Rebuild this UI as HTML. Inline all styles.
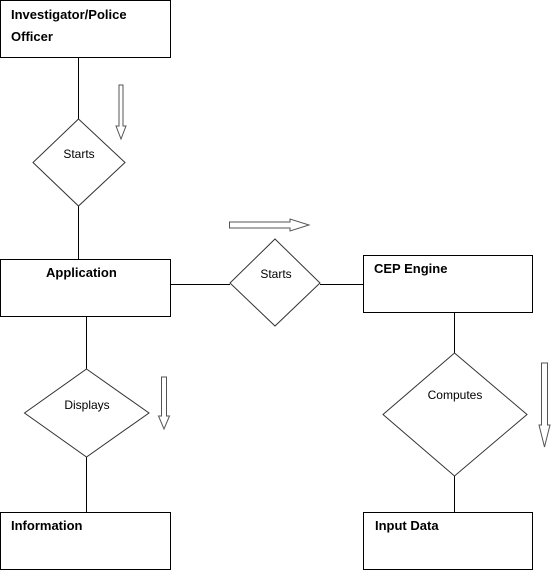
<!DOCTYPE html>
<html><head><style>
html,body{margin:0;padding:0;background:#fff;}
svg{display:block;}
text{font-family:"Liberation Sans","DejaVu Sans",sans-serif;}
.b{font-weight:bold;font-size:13px;fill:#000;}
.n{font-size:12px;fill:#000;}
</style></head><body>
<svg width="551" height="570" viewBox="0 0 551 570" xmlns="http://www.w3.org/2000/svg">
<g fill="none" stroke="#000" stroke-width="1">
<rect x="0.5" y="0.5" width="170" height="57"/>
<rect x="0.5" y="259.5" width="170" height="57"/>
<rect x="363.5" y="255.5" width="169" height="57"/>
<rect x="0.5" y="512.5" width="170" height="57"/>
<rect x="363.5" y="512.5" width="169" height="57"/>
<line x1="78.5" y1="58" x2="78.5" y2="119"/>
<line x1="78.5" y1="206" x2="78.5" y2="259"/>
<line x1="171" y1="284.5" x2="230" y2="284.5"/>
<line x1="320" y1="284.5" x2="363" y2="284.5"/>
<line x1="86.5" y1="317" x2="86.5" y2="369"/>
<line x1="86.5" y1="457" x2="86.5" y2="512"/>
<line x1="454.5" y1="313" x2="454.5" y2="353"/>
<line x1="454.5" y1="476" x2="454.5" y2="512"/>
</g>
<g fill="#fff" stroke="#333" stroke-width="1">
<polygon points="78.5,119 125,162.5 78.5,206 33,162.5"/>
<polygon points="275,239 320,283 275,326 230,283"/>
<polygon points="86.5,369 149,413 86.5,457 24.5,413"/>
<polygon points="454.5,353 527,414.5 454.5,476 383,414.5"/>
</g>
<g fill="#fff" stroke="#555" stroke-width="1">
<polygon points="119,85 123,85 123,126 126,126 121,139 116,126 119,126"/>
<polygon points="229.5,222 290,222 290,219 309,225 290,231 290,228 229.5,228"/>
<polygon points="161.5,377 166.5,377 166.5,416 169.5,416 164,429 158.5,416 161.5,416"/>
<polygon points="541.5,363 547.5,363 547.5,425 550,425 544.5,447 539,425 541.5,425"/>
</g>
<text class="b" x="11" y="19">Investigator/Police</text>
<text class="b" x="11" y="41">Officer</text>
<text class="b" x="46" y="277">Application</text>
<text class="b" x="374" y="273">CEP Engine</text>
<text class="b" x="11" y="530">Information</text>
<text class="b" x="375" y="530">Input Data</text>
<text class="n" x="79" y="158" text-anchor="middle">Starts</text>
<text class="n" x="276" y="278" text-anchor="middle">Starts</text>
<text class="n" x="87" y="409" text-anchor="middle">Displays</text>
<text class="n" x="455" y="399" text-anchor="middle">Computes</text>
</svg>
</body></html>
